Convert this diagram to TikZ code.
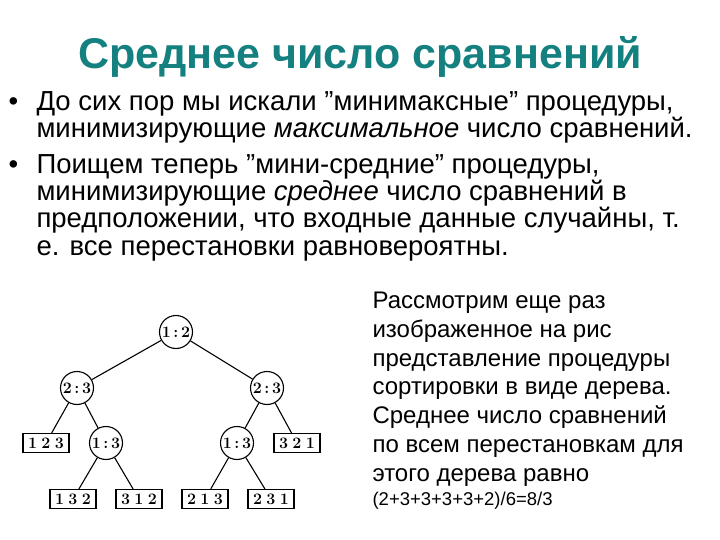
\documentclass[tikz,border=0pt]{standalone}
\usepackage{fontspec}
\setmainfont{Liberation Sans}
\newfontfamily\lmr{Latin Modern Roman}
\definecolor{ttl}{RGB}{20,128,128}
\newcommand{\q}{\char34{}}
\begin{document}
\begin{tikzpicture}[x=1pt,y=-1pt,line width=1.1pt,
  cmp/.style={draw,circle,minimum size=33pt,inner sep=0pt,font=\lmr\fontsize{16}{16}\selectfont\bfseries},
  leaf/.style={draw,rectangle,minimum width=46pt,minimum height=19pt,inner sep=0pt,font=\lmr\fontsize{16}{16}\selectfont\bfseries},
  ln/.style={anchor=base west,inner sep=0pt,font=\fontsize{27.5}{27.5}\selectfont},
  rt/.style={anchor=base west,inner sep=0pt,font=\fontsize{24}{24}\selectfont}]
\useasboundingbox (0,0) rectangle (720,540);
\node[anchor=center,text=ttl,font=\fontsize{43}{43}\selectfont\bfseries] (t) at (360,57) {Среднее число сравнений};
\node[ln] (b1) at (8,111) {•};
\node[ln] (l1) at (36,111) {До сих пор мы искали \q минимаксные\q{} процедуры,};
\node[ln] (l2) at (36,138) {минимизирующие \textit{максимальное} число сравнений.};
\node[ln] (b2) at (8,174) {•};
\node[ln] (l3) at (36,174) {Поищем теперь \q мини-средние\q{} процедуры,};
\node[ln] (l4) at (36,201) {минимизирующие \textit{среднее} число сравнений в};
\node[ln] (l5) at (36,228) {предположении, что входные данные случайны, т.};
\node[ln] (l6) at (36,255) {е. все перестановки равновероятны.};
\node[rt] (r1) at (372,308) {Рассмотрим еще раз};
\node[rt] (r2) at (372,337) {изображенное на рис};
\node[rt] (r3) at (372,366) {представление процедуры};
\node[rt] (r4) at (372,394) {сортировки в виде дерева.};
\node[rt] (r5) at (372,423) {Среднее число сравнений};
\node[rt] (r6) at (372,452) {по всем перестановкам для};
\node[rt] (r7) at (372,481) {этого дерева равно};
\node[rt,font=\fontsize{18.5}{18.5}\selectfont] (r8) at (372,505) {(2+3+3+3+3+2)/6=8/3};
\node[cmp] (a) at (176,332) {1\,:\,2};
\node[cmp] (b) at (77,388) {2\,:\,3};
\node[cmp] (c) at (267,388) {2\,:\,3};
\node[leaf] (d) at (46,443) {1\;2\;3};
\node[cmp] (e) at (106,443) {1\,:\,3};
\node[cmp] (f) at (237,443) {1\,:\,3};
\node[leaf] (g) at (297,443) {3\;2\;1};
\node[leaf] (h) at (73,499) {1\;3\;2};
\node[leaf] (i) at (139,499) {3\;1\;2};
\node[leaf] (j) at (205,499) {2\;1\;3};
\node[leaf] (k) at (271,499) {2\;3\;1};
\draw (a)--(b); \draw (a)--(c);
\draw (b)--(d); \draw (b)--(e);
\draw (c)--(f); \draw (c)--(g);
\draw (e)--(h); \draw (e)--(i);
\draw (f)--(j); \draw (f)--(k);
\end{tikzpicture}
\end{document}
